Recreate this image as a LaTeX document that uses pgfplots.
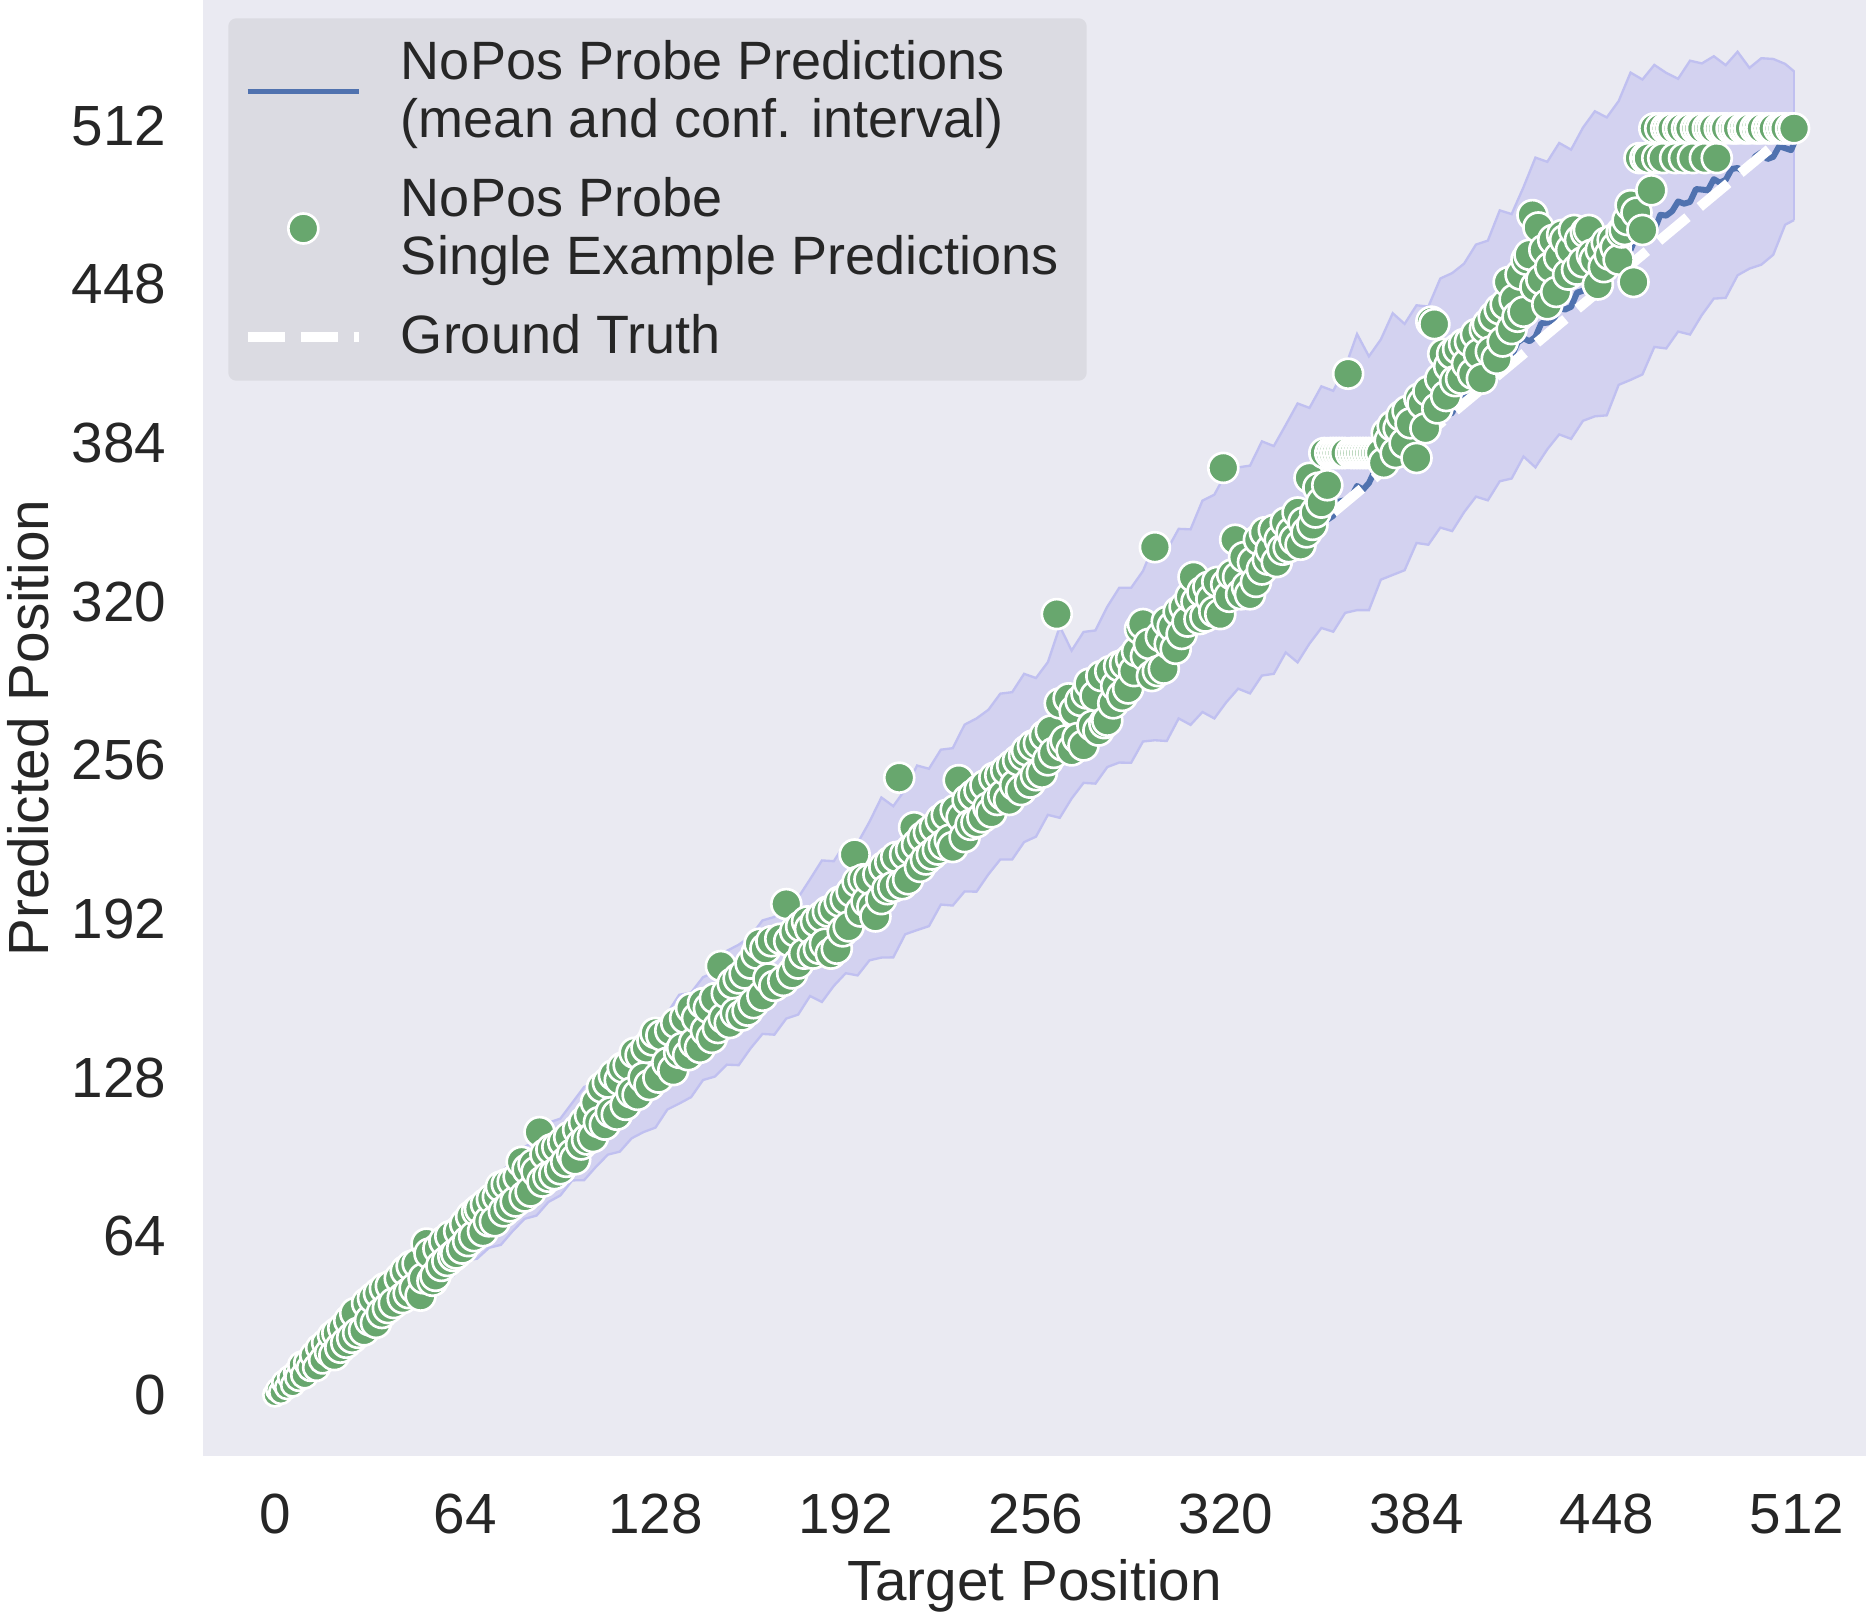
\documentclass[border=0pt]{standalone}
\usepackage{fontspec}
\setmainfont{Liberation Sans}
\usepackage{pgfplots}
\pgfplotsset{compat=1.18}
\usepackage{pgfplotstable}
\usepgfplotslibrary{fillbetween}

\definecolor{bgcol}{RGB}{234,234,242}
\definecolor{legbg}{RGB}{219,219,226}
\definecolor{tcol}{RGB}{38,38,38}
\definecolor{sblue}{RGB}{80,114,175}
\definecolor{sgreen}{RGB}{104,167,110}
\definecolor{bandfill}{RGB}{211,210,240}
\definecolor{bandedge}{RGB}{192,192,240}

\pgfplotsset{
  mylineleg/.style={legend image code/.code={\draw[##1] (0pt,0pt) -- (33.4pt,0pt);}},
  mymarkleg/.style={legend image code/.code={\draw[mark repeat=2,mark phase=2,##1] plot coordinates {(0pt,0pt) (16.7pt,0pt) (33.4pt,0pt)};}},
}

\pgfplotstableread{
x y
0 0
4 5.4
8 9.3
12 15.3
16 18.6
20 24.3
24 29.8
28 33.0
32 38.5
36 41.7
40 47.5
44 52.7
48 55.9
52 61.2
56 67.4
60 70.0
64 76.5
68 78.8
72 86.5
76 90.0
80 94.1
84 100.0
88 102.8
92 109.8
96 111.4
100 117.8
104 124.2
108 125.8
112 132.2
116 133.8
120 140.8
124 146.6
128 148.2
132 154.0
136 161.4
140 162.3
144 168.5
148 170.5
152 179.1
156 181.6
160 185.0
164 191.4
168 192.8
172 201.2
176 200.6
180 208.0
184 215.6
188 215.3
192 222.9
196 222.6
200 231.2
204 241.0
208 237.5
212 244.2
216 253.9
220 252.6
224 260.3
228 260.9
232 270.4
236 272.9
240 276.4
244 282.9
248 283.5
252 290.9
256 289.2
260 295.6
264 310.0
268 300.3
272 307.8
276 308.4
280 318.0
284 325.6
288 325.6
292 332.4
296 344.0
300 340.7
304 349.4
308 349.2
312 360.8
316 363.2
320 372.0
324 374.2
328 374.9
332 384.7
336 382.8
340 391.3
344 400.0
348 398.2
352 406.9
356 405.1
360 414.5
364 428.0
368 419.0
372 425.8
376 436.4
380 432.1
384 439.6
388 439.1
392 450.4
396 452.6
400 456.4
404 464.1
408 465.7
412 477.9
416 476.4
420 487.3
424 499.2
428 497.5
432 505.1
436 502.4
440 511.3
444 517.9
448 515.4
452 522.0
456 533.5
460 530.7
464 536.6
468 533.4
472 531.0
476 538.3
480 537.2
484 540.1
488 536.5
492 541.9
496 535.4
500 539.3
504 539.0
508 537.0
511 534.0
}\bandup

\pgfplotstableread{
x y
0 0
4 3.7
8 5.9
12 10.2
16 13.0
20 17.6
24 19.2
28 23.4
32 27.4
36 29.5
40 33.8
44 36.6
48 38.9
52 43.8
56 46.4
60 48.0
64 54.1
68 54.9
72 59.3
76 60.5
80 66.1
84 71.0
88 72.3
92 77.8
96 80.4
100 86.5
104 86.6
108 92.0
112 96.9
116 98.1
120 103.5
124 106.0
128 107.8
132 115.1
136 117.5
140 120.1
144 127.0
148 128.4
152 133.2
156 133.0
160 139.8
164 145.6
168 145.3
172 151.8
176 153.4
180 160.9
184 158.5
188 165.0
192 170.1
196 169.2
200 175.3
204 176.4
208 176.5
212 185.8
216 187.5
220 189.1
224 197.8
228 197.4
232 203.1
236 203.0
240 210.0
244 216.0
248 216.0
252 223.0
256 225.2
260 234.0
264 232.8
268 240.6
272 246.9
276 246.6
280 253.3
284 255.1
288 255.0
292 263.6
296 264.1
300 263.8
304 272.9
308 270.3
312 275.5
316 272.9
320 279.4
324 284.9
328 283.0
332 290.2
336 290.9
340 299.5
344 295.5
348 303.1
352 309.4
356 307.9
360 315.5
364 316.6
368 316.6
372 328.9
376 330.8
380 332.7
384 343.7
388 343.0
392 349.9
396 348.5
400 356.1
404 362.4
408 360.9
412 368.6
416 369.7
420 378.6
424 374.2
428 381.5
432 387.5
436 385.7
440 393.0
444 394.8
448 395.2
452 407.5
456 409.5
460 411.7
464 422.8
468 422.2
472 429.0
476 427.8
480 435.7
484 442.3
488 442.6
492 451.7
496 454.4
500 456.0
504 460.0
508 472.1
511 474.0
}\bandlo

\pgfplotstableread{
x y
0 0
4 4.3
8 7.7
12 12.2
16 15.8
20 20.4
24 23.7
28 28
32 32.3
36 35.6
40 40
44 44.3
48 47.7
52 52.2
56 55.8
60 60.5
64 63.7
68 68
72 72.3
76 75.6
80 80
84 84.3
88 87.7
92 92.2
96 95.8
100 100.5
104 103.7
108 108
112 112.3
116 115.6
120 120
124 124.3
128 127.7
132 132.2
136 135.8
140 140.5
144 143.7
148 148
152 152.3
156 155.6
160 160
164 164.3
168 167.7
172 172.2
176 175.8
180 180.5
184 183.7
188 188
192 192.3
196 195.6
200 200
204 204.6
208 207.4
212 212.3
216 215.7
220 220.9
224 223.4
228 228
232 232.6
236 235.1
240 240
244 244.6
248 247.4
252 252.3
256 255.7
260 260.9
264 263.4
268 268
272 272.6
276 275.1
280 280
284 284.6
288 287.4
292 292.3
296 295.7
300 300.9
304 303.4
308 308
312 312.6
316 315.1
320 320
324 324.6
328 327.4
332 332.3
336 335.7
340 342.8
342 340.6
344 343.1
346 347.9
348 348.7
350 350.2
352 354.3
354 353.1
356 354.7
358 360.4
360 361
362 362.1
364 366.7
366 365.2
368 367.9
370 373.0
372 374.4
374 374.0
376 377.1
378 381.6
380 384.3
382 382.8
384 384.6
386 390.1
388 390.2
390 391.4
392 395.8
394 395.1
396 396.2
398 402.3
400 402.5
402 404.2
404 408.3
406 407.9
408 409.6
410 415.0
412 416.2
414 416.5
416 419.0
418 424.6
420 426.3
422 425.1
424 426.8
426 432.4
428 432.6
430 433.8
432 438.4
434 437.9
436 439.0
438 444.7
440 445.5
442 446.9
444 451.3
446 450.6
448 452.6
450 458.9
452 459.2
454 459.4
456 462.0
458 467.8
460 469.3
462 468.6
464 469.9
466 476.1
468 475.8
470 477.6
472 481.5
474 480.6
476 481.3
478 486.5
480 486.3
482 486.0
484 490.5
486 489.1
488 490.2
490 494.6
492 495.0
494 493.8
496 495.8
498 499.7
500 501.3
502 498.6
504 499.5
506 503.8
508 503
510 502.2
511 505
}\meanline

\pgfplotstableread{
x y
0 0
1 2
2 1
3 5
4 3
5 7
6 4
7 9
}\scA

\pgfplotstableread{
x y
8 7
9 12
10 8
11 13
12 11
13 16
14 11
15 19
16 14
17 21
18 17
19 24
}\scB

\pgfplotstableread{
x y
20 16
21 25
22 19
23 27
24 21
25 30
26 23
27 33
28 25
30 26
31 37
32 30
33 39
34 29
35 41
36 33
37 43
38 35
39 44
40 37
42 47
43 39
44 50
45 41
46 52
47 43
48 53
49 40
50 47
51 61
52 57
53 46
54 48
55 59
56 52
57 62
58 54
59 64
60 56
61 57
62 66
63 59
64 69
65 62
66 72
67 64
68 74
69 75
70 66
71 77
72 70
73 79
74 70
75 80
76 84
77 74
78 85
79 76
80 86
81 78
82 88
83 94
84 80
85 91
86 82
87 93
88 90
89 106
90 86
91 97
92 88
93 99
94 89
95 100
96 91
97 102
98 94
99 104
100 97
101 95
102 107
103 101
104 110
105 103
106 113
107 104
108 118
109 110
110 124
111 109
112 126
113 114
114 129
115 113
116 127
117 132
118 117
119 133
120 122
121 138
122 121
123 137
124 128
125 140
126 125
127 143
128 146
129 128
130 145
132 134
133 147
134 131
135 150
136 138
137 140
138 152
139 137
140 156
141 142
142 152
143 140
144 158
145 147
146 156
147 144
148 160
149 148
150 173
151 152
152 162
153 150
154 166
155 154
156 168
157 153
158 170
159 155
160 174
161 158
162 178
163 182
164 161
165 180
166 168
167 183
168 165
170 184
171 167
172 198
173 183
174 170
175 187
176 174
177 189
178 178
179 191
180 188
181 178
182 191
183 180
184 193
185 182
186 195
187 178
188 196
189 180
190 199
191 187
192 200
193 189
194 203
195 218
196 207
197 195
198 208
199 199
200 208
201 197
202 193
203 210
204 200
205 213
206 204
207 215
208 205
209 217
210 249
211 206
212 218
213 208
214 220
215 229
216 222
217 213
218 225
219 216
220 227
221 218
222 229
223 220
224 232
225 222
226 234
227 224
228 221
229 236
230 248
231 233
232 225
233 240
234 230
235 242
236 231
237 244
238 233
239 246
240 237
241 235
242 249
243 240
244 250
245 242
246 252
247 240
248 254
249 246
250 256
251 244
252 258
253 260
254 247
255 262
256 250
257 263
258 251
259 266
260 256
261 268
262 259
263 315
264 279
265 262
266 264
267 281
268 260
269 276
270 265
271 280
272 262
273 283
274 287
275 270
276 282
277 268
278 290
279 271
280 272
281 292
282 279
283 286
284 294
285 282
286 295
287 285
288 297
289 292
290 300
291 309
292 311
293 298
294 303
295 290
296 342
297 292
298 306
299 293
300 312
301 303
302 310
303 301
304 316
305 307
306 318
307 312
308 322
309 330
310 320
311 313
312 324
313 314
314 326
315 321
316 316
317 328
318 315
319 374
320 327
321 322
322 331
323 345
324 330
325 323
326 338
327 326
328 323
329 336
330 328
331 345
332 333
333 348
334 337
335 341
336 349
337 336
338 345
339 341
340 352
341 342
342 348
343 345
344 356
345 343
346 352
347 348
348 370
349 351
350 356
351 366
352 360
353 380
354 367
355 380
356 380
357 380
358 380
359 380
360 380
361 412
362 380
363 380
364 380
365 380
366 380
367 380
368 380
369 380
370 380
371 380
372 380
373 376
374 388
375 385
376 391
377 380
378 390
379 395
380 384
381 397
382 392
384 378
385 402
386 400
387 390
388 405
389 433
390 432
391 398
392 410
393 420
394 403
395 415
396 420
397 409
398 422
399 410
400 424
401 416
402 425
403 412
404 428
405 420
406 410
407 430
408 432
409 421
410 435
411 418
412 438
413 425
414 440
415 449
416 430
417 442
418 435
419 452
420 437
421 458
422 460
423 476
424 447
425 471
426 450
427 462
428 440
429 455
430 466
431 445
432 459
433 468
434 466
435 452
436 462
437 470
438 454
439 466
440 457
441 469
442 470
443 460
444 458
445 448
446 462
447 455
448 465
449 460
450 466
451 463
452 458
453 469
454 470
455 474
456 480
457 449
458 477
459 499
460 470
461 499
462 499
463 486
464 511
465 499
466 511
467 499
468 511
469 511
470 511
471 499
472 511
473 511
474 499
475 511
476 511
477 499
478 511
479 511
480 511
481 499
482 511
483 511
484 511
485 499
486 511
487 511
488 511
490 511
491 511
492 511
494 511
495 511
496 511
498 511
499 511
500 511
502 511
503 511
504 511
506 511
507 511
508 511
510 511
511 511
}\scC

\begin{document}
\begin{tikzpicture}
\begin{axis}[
  scale only axis,
  width=498.9pt, height=436.8pt,
  xmin=-24.2, xmax=535.2, ymin=-24.7, ymax=562.8,
  enlargelimits=false,
  axis background/.style={fill=bgcol},
  axis line style={draw=none},
  major tick length=0pt,
  xtick={0,64,128,192,256,320,384,448,512},
  ytick={0,64,128,192,256,320,384,448,512},
  tick label style={font=\fontsize{17}{20}\selectfont, color=tcol},
  /pgf/number format/assume math mode=true,
  xticklabel style={anchor=north, inner sep=0pt, yshift=-11.1pt},
  yticklabel style={anchor=east, inner sep=0pt, xshift=-10.8pt},
  xlabel={Target Position},
  ylabel={Predicted Position},
  label style={font=\fontsize{17}{20}\selectfont, color=tcol, inner sep=0pt},
  xlabel style={at={(axis description cs:0.5,-0.0707)}, anchor=north},
  ylabel style={at={(axis description cs:-0.0920,0.5)}, anchor=south},
  legend cell align=left,
  legend style={
    at={(0.01483,0.98787)}, anchor=north west,
    fill=legbg, draw=none, rounded corners=2.4pt,
    inner xsep=4.3pt, inner ysep=6.6pt,
    /tikz/row sep=10.5pt, /tikz/column sep=11.1pt,
    font=\fontsize{16.2}{17.4}\selectfont, text=tcol,
    nodes={inner sep=0pt},
    cells={align=left},
  },
]
\addlegendimage{mylineleg, color=sblue, line width=1.4pt}
\addlegendentry{NoPos Probe Predictions\\(mean and conf. interval)}
\addlegendimage{mymarkleg, only marks, mark=*, mark size=4.5pt, mark options={fill=sgreen, draw=white, line width=0.8pt}}
\addlegendentry{NoPos Probe\\Single Example Predictions\rule{4.2pt}{0pt}}
\addlegendimage{mylineleg, color=white, line width=3pt, dash pattern=on 11.1pt off 4.8pt}
\addlegendentry{Ground Truth}

\addplot[draw=none, name path=up, forget plot] table {\bandup};
\addplot[draw=none, name path=lo, forget plot] table {\bandlo};
\addplot[fill=bandfill, draw=none, forget plot] fill between[of=up and lo];
\addplot[bandedge, line width=0.7pt, forget plot] table {\bandup};
\addplot[bandedge, line width=0.7pt, forget plot] table {\bandlo};
\addplot[bandedge, line width=0.7pt, forget plot] coordinates {(511,474) (511,534)};

\addplot[only marks, mark=*, mark size=3.5pt, mark options={fill=sgreen, draw=white, line width=0.8pt}, forget plot] table {\scA};
\addplot[only marks, mark=*, mark size=4.0pt, mark options={fill=sgreen, draw=white, line width=0.8pt}, forget plot] table {\scB};
\addplot[only marks, mark=*, mark size=4.5pt, mark options={fill=sgreen, draw=white, line width=0.8pt}, forget plot] table {\scC};

\addplot[sblue, line width=1.8pt, line join=round, forget plot] table {\meanline};
\addplot[white, line width=3pt, dash pattern=on 11.1pt off 4.8pt, forget plot] coordinates {(0,0) (511,511)};
\end{axis}
\pgfresetboundingbox
\path[use as bounding box] (-60.9pt,-49.2pt) rectangle (498.9pt,436.8pt);
\end{tikzpicture}
\end{document}
